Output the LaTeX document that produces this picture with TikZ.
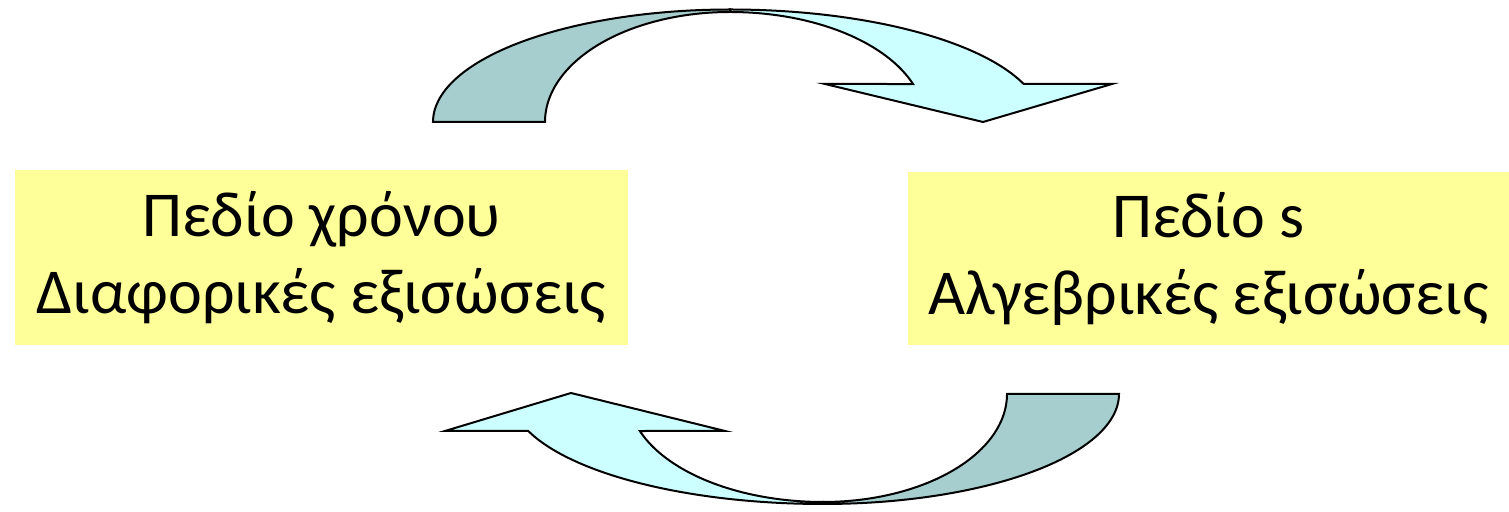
\documentclass[tikz,border=0pt]{standalone}
\usepackage{fontspec}
\setmainfont{Carlito}
\definecolor{darkteal}{RGB}{166,206,206}
\definecolor{lightcyan}{RGB}{204,255,255}
\definecolor{boxyellow}{RGB}{255,255,153}
\newcommand{\lowerline}[1]{\raisebox{-1.75pt}{#1}}
\begin{document}
\begin{tikzpicture}[x=0.5pt,y=0.5pt,
  darkpart/.style={draw=black,line width=1pt,fill=darkteal,line join=miter},
  lightpart/.style={draw=black,line width=1pt,fill=lightcyan,line join=miter},
  domainbox/.style={fill=boxyellow,draw=none,inner sep=0pt,align=center,
    font=\fontsize{32}{38.5}\selectfont}]
\useasboundingbox (0,0) rectangle (1509,512);
% boxes
\node[domainbox,minimum width=306.5pt,minimum height=87.5pt] (time) at (321.5,254.5)
  {\lowerline{Πεδίο χρόνου}\\\lowerline{Διαφορικές εξισώσεις}};
\node[domainbox,minimum width=300.5pt,minimum height=86.5pt] (sdom) at (1208.5,253.5)
  {\lowerline{Πεδίο s}\\\lowerline{Αλγεβρικές εξισώσεις}};
% top curved arrow
\draw[lightpart] plot[domain=90:19.75,samples=60] ({730+312*cos(\x)},{390+112.5*sin(\x)})
  -- (1112,428) -- (983,390) -- (825,428)
  -- plot[domain=20.2:90,samples=60] ({730+195*cos(\x)},{390+110*sin(\x)}) -- cycle;
\draw[darkpart] plot[domain=180:90,samples=60] ({730+297*cos(\x)},{390+112.5*sin(\x)})
  -- plot[domain=90:180,samples=60] ({730+185*cos(\x)},{390+110*sin(\x)}) -- cycle;
% bottom curved arrow
\draw[lightpart] plot[domain=-90:-160.34,samples=60] ({823+313*cos(\x)},{118+110*sin(\x)})
  -- (445,81) -- (571,119) -- (725,81)
  -- plot[domain=-159.96:-90,samples=60] ({823+195*cos(\x)},{118+108*sin(\x)}) -- cycle;
\draw[darkpart] plot[domain=0:-90,samples=60] ({823+296*cos(\x)},{118+110*sin(\x)})
  -- plot[domain=-90:0,samples=60] ({823+184*cos(\x)},{118+108*sin(\x)}) -- cycle;
\end{tikzpicture}
\end{document}
